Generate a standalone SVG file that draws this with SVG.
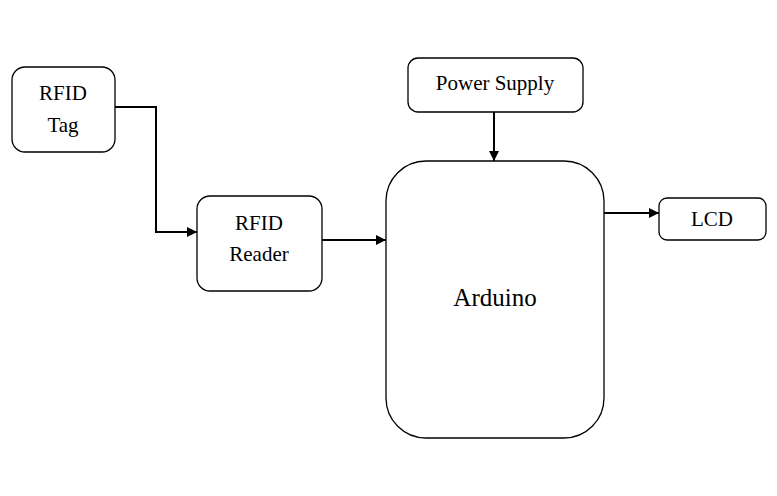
<svg xmlns="http://www.w3.org/2000/svg" width="777" height="496" viewBox="0 0 777 496">
<defs>
<marker id="ah" viewBox="0 0 10 10" refX="10" refY="5" markerWidth="10" markerHeight="10" markerUnits="userSpaceOnUse" orient="auto"><path d="M0,0 L10,5 L0,10 z" fill="#000"/></marker>
<style>
.n{fill:#fff;stroke:#000;stroke-width:1.3}
.t{font-family:"Liberation Serif",serif;font-size:21px;text-anchor:middle;fill:#000}
.c{fill:none;stroke:#000;stroke-width:2;marker-end:url(#ah)}
</style>
</defs>
<rect width="777" height="496" fill="#fff"/>
<g id="connectors">
<path class="c" d="M115,107 H156 V232 H197"/>
<path class="c" d="M322,240 H386"/>
<path class="c" d="M494,112 V161"/>
<path class="c" d="M604,213 H659"/>
</g>
<g id="rfid-tag"><rect class="n" x="12" y="67" width="103" height="85" rx="13"/><text class="t" x="63" y="100">RFID</text><text class="t" x="63" y="132">Tag</text></g>
<g id="rfid-reader"><rect class="n" x="197" y="196" width="125" height="95" rx="13"/><text class="t" x="259" y="230">RFID</text><text class="t" x="259" y="261">Reader</text></g>
<g id="power-supply"><rect class="n" x="408" y="58" width="175" height="54" rx="10"/><text class="t" x="495" y="90">Power Supply</text></g>
<g id="arduino"><rect class="n" x="386" y="161" width="218" height="277" rx="40"/><text class="t" x="495" y="306" style="font-size:25px">Arduino</text></g>
<g id="lcd"><rect class="n" x="659" y="198" width="107" height="42" rx="8"/><text class="t" x="712" y="226">LCD</text></g>
</svg>
